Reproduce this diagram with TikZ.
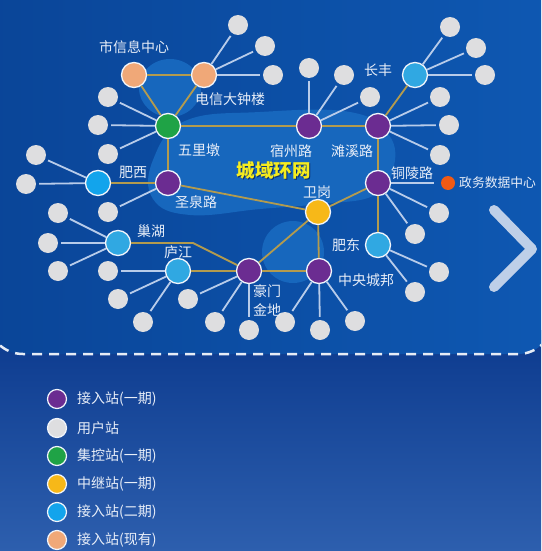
\documentclass[tikz,border=0pt]{standalone}
\usepackage{fontspec}
\setmainfont{Noto Sans CJK SC}
\definecolor{purp}{HTML}{6B2C91}
\definecolor{grn}{HTML}{1FA346}
\definecolor{orng}{HTML}{F0A878}
\definecolor{yel}{HTML}{F7B818}
\definecolor{lblue}{HTML}{30A8E2}
\definecolor{cblue}{HTML}{12A4EC}
\definecolor{ugray}{HTML}{DEDEE0}
\definecolor{redc}{HTML}{F05A14}
\definecolor{trunkc}{HTML}{B39B4E}
\definecolor{spokec}{HTML}{B8CCEA}
\definecolor{labelc}{HTML}{E8EEF8}
\definecolor{blobc}{HTML}{1767BD}
\definecolor{chevc}{HTML}{BECFE8}
\definecolor{titlec}{HTML}{F5EC1E}
\definecolor{titlesh}{HTML}{0B2F70}
\definecolor{bgtop}{HTML}{0C3A8E}
\definecolor{bgbot}{HTML}{2D5FAE}
\definecolor{upl}{HTML}{0A4598}
\definecolor{upr}{HTML}{0E58B2}
\definecolor{dashc}{HTML}{E6ECF6}
\begin{document}
\begin{tikzpicture}[x=1pt,y=-1pt,
  stn/.style={circle, draw=white!80!spokec, line width=1.3pt, minimum size=25pt, inner sep=0pt},
  usr/.style={circle, fill=ugray, minimum size=20pt, inner sep=0pt},
  legdot/.style={circle, draw=white!80!spokec, line width=1.2pt, minimum size=19pt, inner sep=0pt},
  trunk/.style={draw=trunkc, line width=1.8pt},
  spoke/.style={draw=spokec, line width=1.8pt, shorten >=3pt},
  lbl/.style={text=labelc, font=\fontsize{14pt}{16pt}\selectfont, inner sep=0pt},
  legtxt/.style={lbl, anchor=west},
  ttl/.style={font=\fontsize{18.5pt}{20pt}\selectfont\bfseries, inner sep=0pt}]
\useasboundingbox (0,0) rectangle (541,551);
\clip (0,0) rectangle (541,551);
% backgrounds
\shade[top color=bgtop, bottom color=bgbot] (0,330) rectangle (541,551);
\shade[left color=upl, right color=upr, rounded corners=35pt] (-12,-60) rectangle (553,354);
\draw[dashc, line width=2.5pt, dash pattern=on 10pt off 7pt, rounded corners=35pt] (-12,-60) rectangle (553,354);
% light blobs
\fill[blobc] plot[smooth cycle, tension=0.7] coordinates {(153,160) (185,121) (260,112) (350,112) (389,135) (393,170) (373,196) (320,204) (260,209) (190,215) (153,199)};
\fill[blobc] (293,252) circle (31pt);
\fill[blobc] (170,88) ellipse (31pt and 29pt);
% chevron
\draw[chevc, line width=10pt, line cap=round, line join=round] (494,210) -- (532,249) -- (494,287);
% stations
\node[stn, fill=orng] (sx) at (134,75) {};
\node[stn, fill=orng] (dx) at (204,75) {};
\node[stn, fill=grn] (wl) at (168,126) {};
\node[stn, fill=purp] (sz) at (309,126) {};
\node[stn, fill=purp] (tx) at (378,126) {};
\node[stn, fill=lblue] (cf) at (415,75) {};
\node[stn, fill=cblue] (fx) at (98,183) {};
\node[stn, fill=purp] (sq) at (168,183) {};
\node[stn, fill=purp] (tl) at (378,183) {};
\node[stn, fill=yel] (wg) at (318,212) {};
\node[stn, fill=lblue] (ch) at (118,243) {};
\node[stn, fill=lblue] (lj) at (178,271) {};
\node[stn, fill=purp] (hm) at (249,271) {};
\node[stn, fill=purp] (zy) at (319,271) {};
\node[stn, fill=lblue] (fd) at (378,245) {};
\node[circle, fill=redc, minimum size=14pt, inner sep=0pt] (zw) at (448,183) {};
\coordinate (bend) at (193,243);
% trunk lines
\draw[trunk] (sx) -- (dx);
\draw[trunk] (sx) -- (wl);
\draw[trunk] (dx) -- (wl);
\draw[trunk] (wl) -- (sz);
\draw[trunk] (sz) -- (tx);
\draw[trunk] (wl) -- (sq);
\draw[trunk] (tx) -- (cf);
\draw[trunk] (tx) -- (tl);
\draw[trunk] (tl) -- (wg);
\draw[trunk] (tl) -- (fd);
\draw[trunk] (sq) -- (wg);
\draw[trunk] (fx) -- (sq);
\draw[trunk] (wg) -- (hm);
\draw[trunk] (wg) -- (zy);
\draw[trunk] (ch) -- (bend) -- (hm);
\draw[trunk] (lj) -- (hm);
\draw[trunk] (hm) -- (zy);
\draw[spoke, shorten >=7pt] (tl) -- (zw);
% user stations
\foreach \s/\x/\y in {dx/238/25, dx/265/46, dx/273/75,
  wl/108/97, wl/98/125, wl/108/154,
  sz/309/68, sz/344/75, sz/370/97,
  cf/450/27, cf/476/48, cf/485/75,
  tx/440/97, tx/449/125, tx/440/155,
  fx/36/155, fx/26/184,
  sq/108/212,
  tl/439/213, tl/415/234,
  ch/58/213, ch/48/243, ch/58/271,
  lj/108/271, lj/118/299, lj/143/322,
  hm/188/299, hm/215/322, hm/249/330,
  zy/285/322, zy/320/330, zy/355/321,
  fd/439/272, fd/415/292} {
  \node[usr] (u-\s-\x) at (\x,\y) {};
  \draw[spoke] (\s) -- (u-\s-\x);
}
% labels
\node[lbl] (l-sx) at (134,47) {市信息中心};
\node[lbl] (l-dx) at (230,99) {电信大钟楼};
\node[lbl] (l-wl) at (199,150) {五里墩};
\node[lbl] (l-fx) at (133,172) {肥西};
\node[lbl] (l-sq) at (196,202) {圣泉路};
\node[lbl] (l-sz) at (291,151) {宿州路};
\node[lbl] (l-tx) at (352,151) {滩溪路};
\node[ttl, text=titlesh] (titlesh) at (274.8,171.8) {城域环网};
\node[ttl, text=titlec] (title) at (273.5,170.5) {城域环网};
\node[lbl] (l-wg) at (317,192) {卫岗};
\node[lbl] (l-cf) at (378,70) {长丰};
\node[lbl] (l-tl) at (412,173) {铜陵路};
\node[lbl, anchor=west, font=\fontsize{12.8pt}{15pt}\selectfont] (l-zw) at (459,183) {政务数据中心};
\node[lbl] (l-ch) at (151,231) {巢湖};
\node[lbl] (l-lj) at (178,252) {庐江};
\node[lbl] (l-hm1) at (267,291) {豪门};
\node[lbl] (l-hm2) at (267,310) {金地};
\node[lbl] (l-fd) at (346,245) {肥东};
\node[lbl] (l-zy) at (366,280) {中央城邦};
% legend
\node[legdot, fill=purp] (k1) at (57,399) {};
\node[legdot, fill=ugray] (k2) at (57,428) {};
\node[legdot, fill=grn] (k3) at (57,456) {};
\node[legdot, fill=yel] (k4) at (57,484) {};
\node[legdot, fill=cblue] (k5) at (57,512) {};
\node[legdot, fill=orng] (k6) at (57,540) {};
\node[legtxt] (t1) at (77,399) {接入站(一期)};
\node[legtxt] (t2) at (77,428) {用户站};
\node[legtxt] (t3) at (77,456) {集控站(一期)};
\node[legtxt] (t4) at (77,484) {中继站(一期)};
\node[legtxt] (t5) at (77,512) {接入站(二期)};
\node[legtxt] (t6) at (77,540) {接入站(现有)};
\end{tikzpicture}
\end{document}
